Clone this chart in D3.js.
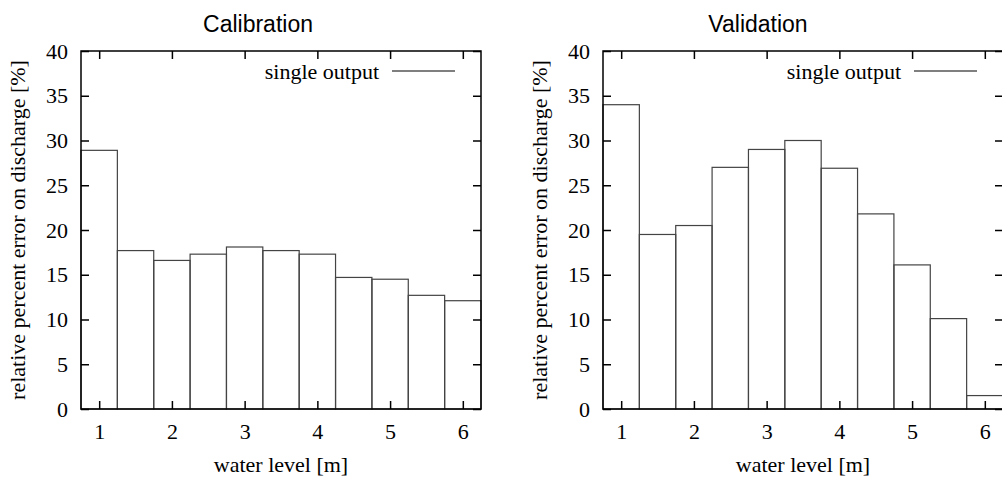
<!DOCTYPE html>
<html>
<head>
<meta charset="utf-8">
<script src="https://cdn.jsdelivr.net/npm/d3@7"></script>
<style>
  body { margin: 0; background: #fff; }
  svg { display: block; }
  .tick text { font-family: "Liberation Serif", "Times New Roman", serif; font-size: 22px; fill: #000; }
  .tick line { stroke: #000; stroke-width: 1.5; }
  .axisName { font-family: "Liberation Serif", "Times New Roman", serif; font-size: 22px; fill: #000; }
  .title { font-family: "Liberation Sans", Arial, sans-serif; font-size: 23px; fill: #000; }
</style>
</head>
<body>
<div class="visHolder"></div>
<script>
var width = 1002,
  height = 477;

// water level bin centres [m]
var levels = [1, 1.5, 2, 2.5, 3, 3.5, 4, 4.5, 5, 5.5, 6];
var calibration = [28.9, 17.7, 16.6, 17.3, 18.1, 17.7, 17.3, 14.7, 14.5, 12.7, 12.1];
var validation = [34.0, 19.5, 20.5, 27.0, 29.0, 30.0, 26.9, 21.8, 16.1, 10.1, 1.5];
var xTicks = [1, 2, 3, 4, 5, 6];
var yTicks = [0, 5, 10, 15, 20, 25, 30, 35, 40];
var titles = ["Calibration", "Validation"];
var legendLabel = "single output";
var binWidth = 0.5;

var panels = [
  { title: titles[0], values: calibration, left: 81, titleX: 258 },
  { title: titles[1], values: validation, left: 603, titleX: 758 }
];

var plotW = 400, plotTop = 51, plotH = 358;

var svgContainer = d3.select(".visHolder").append("svg")
  .attr("width", width).attr("height", height);

panels.forEach(function (p) {
  var g = svgContainer.append("g").attr("transform", "translate(" + p.left + "," + plotTop + ")");

  var xScale = d3.scaleLinear().domain([0.75, 6.25]).range([0, plotW]);
  var yScale = d3.scaleLinear().domain([0, 40]).range([plotH, 0]);

  svgContainer.append("text")
    .attr("class", "title")
    .attr("x", p.titleX)
    .attr("y", 31.5)
    .style("text-anchor", "middle")
    .text(p.title);

  // bars
  g.selectAll(".bar")
    .data(levels)
    .enter()
    .append("rect")
    .attr("class", "bar")
    .attr("x", d => xScale(d - binWidth / 2))
    .attr("width", d => xScale(d + binWidth / 2) - xScale(d - binWidth / 2))
    .attr("y", (d, i) => yScale(p.values[i]))
    .attr("height", (d, i) => yScale(0) - yScale(p.values[i]))
    .style("fill", "none")
    .style("stroke", "#444")
    .style("stroke-width", 1.2);

  // axes with inward ticks
  var xAxis = d3.axisBottom(xScale).tickValues(xTicks).tickSize(-8).tickPadding(14).tickFormat(d3.format("d"));
  var yAxis = d3.axisLeft(yScale).tickValues(yTicks).tickSize(-8).tickPadding(13);
  var xTop = d3.axisTop(xScale).tickValues(xTicks).tickSize(-8).tickFormat("");
  var yRight = d3.axisRight(yScale).tickValues(yTicks).tickSize(-8).tickFormat("");

  g.append("g").attr("transform", "translate(0," + plotH + ")").call(xAxis);
  g.append("g").call(yAxis);
  g.append("g").call(xTop);
  g.append("g").attr("transform", "translate(" + plotW + ",0)").call(yRight);
  g.selectAll(".domain").remove();

  // frame
  g.append("rect")
    .attr("width", plotW).attr("height", plotH)
    .style("fill", "none").style("stroke", "#000").style("stroke-width", 1.5);

  // legend
  g.append("text")
    .attr("class", "axisName")
    .attr("x", plotW - 102)
    .attr("y", 20)
    .attr("dy", ".35em")
    .style("text-anchor", "end")
    .text(legendLabel);
  g.append("line")
    .attr("x1", plotW - 89).attr("x2", plotW - 26)
    .attr("y1", 20).attr("y2", 20)
    .style("stroke", "#000").style("stroke-width", 1.2);

  // axis names
  g.append("text")
    .attr("class", "axisName")
    .attr("x", plotW / 2)
    .attr("y", 421)
    .style("text-anchor", "middle")
    .text("water level [m]");

  g.append("text")
    .attr("class", "axisName")
    .attr("transform", "rotate(-90)")
    .attr("x", -plotH / 2)
    .attr("y", -56)
    .style("text-anchor", "middle")
    .text("relative percent error on discharge [%]");
});
</script>
</body>
</html>
